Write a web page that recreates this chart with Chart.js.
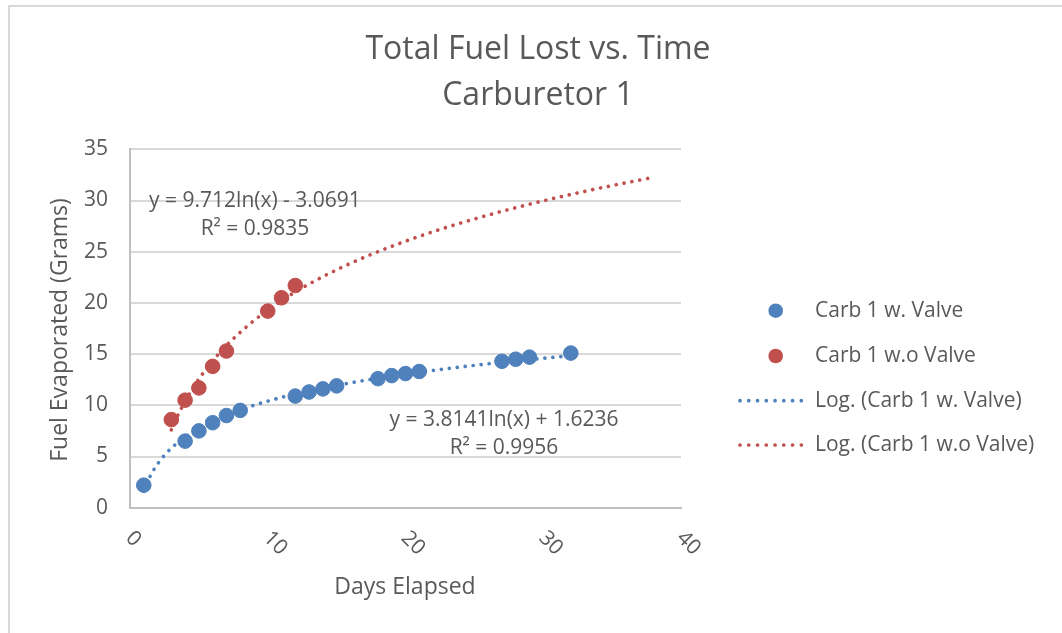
<!DOCTYPE html>
<html><head><meta charset="utf-8">
<script src="https://cdn.jsdelivr.net/npm/chart.js@4.4.1/dist/chart.umd.min.js"></script>
<style>html,body{margin:0;padding:0;background:#fff;}#wrap{position:relative;width:1062px;height:633px;}</style>
</head><body><div id="wrap"><canvas id="c" width="1062" height="633"></canvas></div>
<script>
// ---- data ----
const chartTitle = ['Total Fuel Lost vs. Time', 'Carburetor 1'];
const xAxisTitle = 'Days Elapsed';
const yAxisTitle = 'Fuel Evaporated (Grams)';
const seriesNames = ['Carb 1 w. Valve', 'Carb 1 w.o Valve'];
const trendNames = ['Log. (Carb 1 w. Valve)', 'Log. (Carb 1 w.o Valve)'];
const withValveDays = [1, 4, 5, 6, 7, 8, 12, 13, 14, 15, 18, 19, 20, 21, 27, 28, 29, 32];
const withValveGrams = [2.2, 6.5, 7.5, 8.3, 9.0, 9.5, 10.9, 11.3, 11.6, 11.9, 12.6, 12.9, 13.1, 13.3, 14.3, 14.5, 14.7, 15.1];
const withoutValveDays = [3, 4, 5, 6, 7, 10, 11, 12];
const withoutValveGrams = [8.6, 10.5, 11.7, 13.8, 15.3, 19.2, 20.5, 21.7];
// logarithmic trendlines as stated on the chart: y = a*ln(x) + b
const trendSlopes = [3.8141, 9.712];
const trendIntercepts = [1.6236, -3.0691];
const trendFrom = [1, 3];
const trendTo = [32, 37.6];
const trendEquations = ['y = 3.8141ln(x) + 1.6236', 'y = 9.712ln(x) - 3.0691'];
const trendR2 = ['R² = 0.9956', 'R² = 0.9835'];
const xTicks = [0, 10, 20, 30, 40];
const yTicks = [0, 5, 10, 15, 20, 25, 30, 35];

// ---- styles ----
const BLUE = '#4F81BD', RED = '#C0504D', TXT = '#595959';
const FONT = '"Open Sans", "DejaVu Sans", sans-serif';
const colors = [BLUE, RED];

function trendPoints(i) {
  const pts = [];
  const a = trendSlopes[i], b = trendIntercepts[i];
  for (let x = trendFrom[i]; x < trendTo[i]; x += 0.1) pts.push({x: x, y: a * Math.log(x) + b});
  pts.push({x: trendTo[i], y: a * Math.log(trendTo[i]) + b});
  return pts;
}
const toPts = (xs, ys) => xs.map((x, k) => ({x: x, y: ys[k]}));

const datasets = [
  {label: seriesNames[0], data: toPts(withValveDays, withValveGrams), backgroundColor: BLUE, borderColor: BLUE,
   pointRadius: 7.3, pointBorderWidth: 1, showLine: false, kind: 'marker'},
  {label: seriesNames[1], data: toPts(withoutValveDays, withoutValveGrams), backgroundColor: RED, borderColor: RED,
   pointRadius: 7.3, pointBorderWidth: 1, showLine: false, kind: 'marker'},
  {label: trendNames[0], data: trendPoints(0), borderColor: BLUE, backgroundColor: BLUE, showLine: true,
   pointRadius: 0, borderWidth: 3.7, borderDash: [0.01, 8], borderCapStyle: 'round', tension: 0, kind: 'trend'},
  {label: trendNames[1], data: trendPoints(1), borderColor: RED, backgroundColor: RED, showLine: true,
   pointRadius: 0, borderWidth: 3.7, borderDash: [0.01, 8], borderCapStyle: 'round', tension: 0, kind: 'trend'}
];

const decor = {
  id: 'decor',
  beforeDraw(chart) {
    const ctx = chart.ctx;
    ctx.save();
    ctx.fillStyle = '#fff';
    ctx.fillRect(0, 0, chart.width, chart.height);
    ctx.strokeStyle = '#d9d9d9';
    ctx.lineWidth = 2;
    ctx.beginPath();
    ctx.moveTo(9, 640); ctx.lineTo(9, 6); ctx.lineTo(1070, 6);
    ctx.stroke();
    ctx.restore();
  },
  afterDraw(chart) {
    const ctx = chart.ctx;
    const xs = chart.scales.x, ys = chart.scales.y;
    ctx.save();
    ctx.fillStyle = TXT;
    // title
    ctx.font = '32px ' + FONT;
    ctx.textAlign = 'center';
    ctx.textBaseline = 'middle';
    ctx.fillText(chartTitle[0], 538, 50);
    ctx.fillText(chartTitle[1], 538, 96);
    // axis titles
    ctx.font = '23px ' + FONT;
    ctx.fillText(xAxisTitle, 405, 587);
    ctx.save();
    ctx.translate(60, 330);
    ctx.rotate(-Math.PI / 2);
    ctx.fillText(yAxisTitle, 0, 0);
    ctx.restore();
    // x tick labels rotated 45deg clockwise
    ctx.font = '21px ' + FONT;
    ctx.textAlign = 'left';
    xTicks.forEach(v => {
      const px = xs.getPixelForValue(v);
      ctx.save();
      ctx.translate(px - 1, xs.top + 27);
      ctx.rotate(Math.PI / 4);
      ctx.fillText(String(v), 0, 0);
      ctx.restore();
    });
    // trendline equations
    ctx.textAlign = 'center';
    ctx.fillText(trendEquations[1], 255, 201);
    ctx.fillText(trendR2[1], 255, 229);
    ctx.fillText(trendEquations[0], 504, 420);
    ctx.fillText(trendR2[0], 504, 448);
    // legend
    const rows = [310.7, 356, 400.7, 445];
    ctx.textAlign = 'left';
    chart.data.datasets.forEach((ds, i) => {
      const y = rows[i];
      if (ds.kind === 'marker') {
        ctx.beginPath();
        ctx.fillStyle = ds.backgroundColor;
        ctx.arc(775.7, y, 7.3, 0, Math.PI * 2);
        ctx.fill();
      } else {
        ctx.strokeStyle = ds.borderColor;
        ctx.lineWidth = 3.7;
        ctx.lineCap = 'round';
        ctx.setLineDash([0.01, 8.75]);
        ctx.beginPath();
        ctx.moveTo(740, y); ctx.lineTo(810, y);
        ctx.stroke();
        ctx.setLineDash([]);
      }
      ctx.fillStyle = TXT;
      ctx.fillText(ds.label, 815, y);
    });
    ctx.restore();
  }
};

new Chart(document.getElementById('c'), {
  type: 'scatter',
  data: {datasets: datasets},
  plugins: [decor],
  options: {
    responsive: false,
    devicePixelRatio: 1,
    animation: false,
    events: [],
    layout: {padding: {left: 0, top: 149.3, right: 381, bottom: 0}},
    plugins: {legend: {display: false}, tooltip: {enabled: false}, title: {display: false}},
    scales: {
      x: {
        type: 'linear', min: 0, max: 40,
        afterBuildTicks: s => { s.ticks = xTicks.map(v => ({value: v})); },
        afterFit: s => { s.height = 125.3; },
        ticks: {display: false},
        grid: {display: false, drawTicks: false},
        border: {display: true, color: '#bfbfbf', width: 2}
      },
      y: {
        type: 'linear', min: 0, max: 35,
        afterBuildTicks: s => { s.ticks = yTicks.map(v => ({value: v})); },
        afterFit: s => { s.width = 130; },
        ticks: {padding: 22, color: TXT, font: {family: FONT, size: 21}},
        grid: {color: '#d9d9d9', lineWidth: 2, drawTicks: false},
        border: {display: true, color: '#bfbfbf', width: 2}
      }
    }
  }
});
</script>
</body></html>
